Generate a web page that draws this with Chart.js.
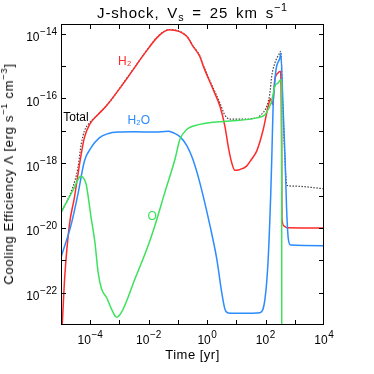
<!DOCTYPE html>
<html><head><meta charset="utf-8">
<script src="https://cdn.jsdelivr.net/npm/chart.js@4.4.1/dist/chart.umd.min.js"></script>
<style>
html,body{margin:0;padding:0;background:#fff;}
#wrap{position:relative;width:374px;height:374px;overflow:hidden;font-family:'Liberation Sans',Arial,sans-serif;color:#000;}
canvas{position:absolute;left:0;top:0;}
.t{position:absolute;white-space:nowrap;line-height:16px;}
.t sup,.t sub{font-size:72%;line-height:0;}
#title{left:61px;width:263px;top:4px;text-align:center;font-size:15px;line-height:18px;letter-spacing:0.8px;word-spacing:3px;}
#title sup{vertical-align:7px;}
#title sub{vertical-align:-3px;}
#xtitle{left:61px;width:263px;top:347px;text-align:center;font-size:13px;letter-spacing:0.5px;}
#ytitle{left:8.5px;top:174px;font-size:13px;letter-spacing:0.7px;transform:translate(-50%,-50%) rotate(-90deg);}
#ytitle sup{vertical-align:6px;}
</style></head>
<body>
<div id="wrap">
<canvas id="c" width="374" height="374"></canvas>
<div class="t" id="title">J-shock, V<sub>s</sub> = 25 km s<sup>−1</sup></div>
<div class="t" id="xtitle">Time [yr]</div>
<div class="t" id="ytitle">Cooling Efficiency Λ [erg s<sup>−1</sup> cm<sup>−3</sup>]</div>
</div>
<script>
// ---- data (time in yr, cooling efficiency in erg s^-1 cm^-3) ----
const h2Time  = [1.0e-5,1.10e-5,1.35e-5,1.95e-5,2.88e-5,3.80e-5,4.90e-5,6.31e-5,9.55e-5,1.82e-4,3.47e-4,1.17e-3,2.95e-3,7.41e-3,2.14e-2,5.01e-2,0.200,0.331,0.562,0.741,1.62,2.75,4.07,5.25,6.92,8.91,12.6,22.4,33.1,50.1,83.2,123,148,174,209,269,324,355,363,427,525,1e4];
const h2Value = [2.5e-24,1.0e-23,3.31e-22,1.29e-20,8.71e-20,4.47e-19,1.86e-18,6.17e-18,1.58e-17,3.16e-17,5.75e-17,2.40e-16,7.76e-16,2.51e-15,8.32e-15,1.32e-14,8.32e-15,4.07e-15,2.0e-15,1.0e-15,1.86e-16,5.75e-17,1.38e-17,3.39e-18,1.05e-18,6.03e-19,6.31e-19,8.13e-19,1.32e-18,2.40e-18,1.10e-17,5.75e-17,9.77e-17,6.46e-17,3.80e-16,6.17e-16,6.92e-16,3.16e-18,2.0e-20,1.15e-20,1.02e-20,1.0e-20];

const h2oTime  = [1.0e-5,2.24e-5,3.80e-5,6.31e-5,1.07e-4,2.09e-4,3.98e-4,9.12e-4,3.16e-3,1.62e-2,4.68e-2,6.92e-2,0.117,0.200,0.316,0.562,1.26,2.14,3.16,4.07,5.25,15.8,64.6,95.5,123,151,166,182,200,234,309,331,398,468,525,603,724,1e4];
const h2oValue = [1.23e-21,1.29e-20,1.10e-19,1.15e-18,3.02e-18,6.17e-18,8.13e-18,9.12e-18,9.33e-18,9.12e-18,9.77e-18,8.71e-18,6.61e-18,3.55e-18,1.41e-18,2.51e-19,1.15e-20,1.10e-21,1.02e-22,3.09e-23,2.34e-23,2.29e-23,2.40e-23,6.31e-23,1.10e-21,1.23e-19,2.51e-18,6.31e-17,2.40e-16,8.91e-16,1.78e-15,2.51e-15,5.01e-17,1.26e-18,3.98e-20,4.47e-21,2.95e-21,2.82e-21];

const oTime  = [1.0e-5,2.51e-5,3.98e-5,4.68e-5,7.24e-5,1.07e-4,1.45e-4,1.86e-4,2.45e-4,3.63e-4,5.37e-4,7.94e-4,1.17e-3,3.39e-3,9.55e-3,1.62e-2,3.55e-2,7.94e-2,0.117,0.200,0.562,1.0,6.03,50.1,95.5,123,162,209,269,331,355,359,1e4];
const oValue = [2.95e-20,1.41e-19,3.31e-19,3.98e-19,2.24e-19,2.09e-20,3.55e-21,4.27e-22,1.29e-22,7.08e-23,3.09e-23,1.74e-23,2.45e-23,2.63e-22,2.82e-21,1.15e-20,1.23e-19,1.32e-18,5.37e-18,1.10e-17,1.58e-17,1.74e-17,2.0e-17,2.51e-17,3.16e-17,4.57e-17,8.32e-17,2.40e-16,3.02e-16,3.80e-16,3.16e-16,1e-26,1e-26];

const totalTime  = [1.0e-5,2.51e-5,3.80e-5,4.90e-5,6.31e-5,9.55e-5,1.41e-4,3.09e-4,6.31e-4,1.17e-3,2.95e-3,7.41e-3,2.14e-2,5.01e-2,0.200,0.331,0.562,0.741,1.62,2.75,3.98,6.03,15.8,46.8,64.6,110,141,162,209,295,331,398,479,537,1000,1e4];
const totalValue = [2.95e-20,1.78e-19,7.24e-19,3.80e-18,9.77e-18,1.78e-17,2.51e-17,5.13e-17,1.12e-16,2.51e-16,7.94e-16,2.57e-15,8.51e-15,1.35e-14,8.51e-15,4.17e-15,2.09e-15,1.05e-15,2.09e-16,7.24e-17,3.16e-17,2.29e-17,2.29e-17,2.51e-17,2.95e-17,5.75e-17,1.48e-16,4.79e-16,1.26e-15,2.40e-15,2.88e-15,3.16e-17,6.31e-19,2.09e-19,1.95e-19,1.62e-19];

const seriesNames = ['H₂','H₂O','O','Total'];
const xTickExps = [-4,-2,0,2,4];
const yTickExps = [-22,-20,-18,-16,-14];
const xDecadeExps = [-4,-3,-2,-1,0,1,2,3];
const yDecadeExps = [-22,-21,-20,-19,-18,-17,-16,-15,-14];

// in-plot label anchors (time, value)
const labelAnchors = [
  {text:'H₂',    t:1.51e-3, v:1.38e-15, color:'#ff2a2a'},
  {text:'Total', t:3.24e-5, v:2.63e-17, color:'#000000'},
  {text:'H₂O',   t:4.57e-3, v:2.09e-17, color:'#2a8cff'},
  {text:'O',     t:1.32e-2, v:2.24e-20, color:'#3de25c'}
];

const FONT = "'Liberation Sans', Arial, sans-serif";
function expText(e){ return String(e).replace('-', '−'); }
function pts(t, v){ return t.map((x,i)=>({x:x, y:v[i]})); }

const framePlugin = {
  id:'frame',
  afterDraw(chart){
    const ctx = chart.ctx, a = chart.chartArea, xs = chart.scales.x, ys = chart.scales.y;
    ctx.save();
    ctx.strokeStyle = '#000'; ctx.lineWidth = 1;
    ctx.strokeRect(Math.round(a.left)+0.5, Math.round(a.top)+0.5, Math.round(a.right-a.left)-1, Math.round(a.bottom-a.top)-1);
    const L = 5;
    ctx.beginPath();
    xDecadeExps.forEach(e=>{
      const px = Math.round(xs.getPixelForValue(Math.pow(10,e)))+0.5;
      ctx.moveTo(px, a.bottom); ctx.lineTo(px, a.bottom-L);
      ctx.moveTo(px, a.top); ctx.lineTo(px, a.top+L);
    });
    yDecadeExps.forEach(e=>{
      const py = Math.round(ys.getPixelForValue(Math.pow(10,e)))+0.5;
      ctx.moveTo(a.left, py); ctx.lineTo(a.left+L, py);
      ctx.moveTo(a.right, py); ctx.lineTo(a.right-L, py);
    });
    ctx.stroke();
    // tick labels: 10 with superscript exponent
    ctx.fillStyle = '#000';
    ctx.textBaseline = 'alphabetic';
    const baseFont = '12px ' + FONT, supFont = '10px ' + FONT;
    function measure(e){
      ctx.font = baseFont; const w1 = ctx.measureText('10').width;
      ctx.font = supFont; const w2 = ctx.measureText(expText(e)).width;
      return [w1, w2];
    }
    function draw(e, xLeft, base){
      const [w1] = measure(e);
      ctx.textAlign = 'left';
      ctx.font = baseFont; ctx.fillText('10', xLeft, base);
      ctx.font = supFont; ctx.fillText(expText(e), xLeft + w1 + 0.5, base - 6.5);
    }
    xTickExps.forEach(e=>{
      const px = xs.getPixelForValue(Math.pow(10,e));
      const [w1,w2] = measure(e);
      draw(e, px - (w1 + w2 + 0.5)/2, a.bottom + 19);
    });
    yTickExps.forEach(e=>{
      const py = ys.getPixelForValue(Math.pow(10,e));
      const [w1,w2] = measure(e);
      draw(e, a.left - 4 - (w1 + w2 + 0.5), py + 7.5);
    });
    ctx.restore();
  }
};
const labelPlugin = {
  id:'seriesLabels',
  afterDatasetsDraw(chart){
    const ctx = chart.ctx, xs = chart.scales.x, ys = chart.scales.y;
    ctx.save();
    ctx.font = '12px ' + FONT;
    ctx.textAlign = 'center'; ctx.textBaseline = 'middle';
    labelAnchors.forEach(l=>{
      ctx.fillStyle = l.color;
      ctx.fillText(l.text, xs.getPixelForValue(l.t), ys.getPixelForValue(l.v));
    });
    ctx.restore();
  }
};

const common = {pointRadius:0, fill:false, cubicInterpolationMode:'monotone', clip:0};
new Chart(document.getElementById('c'), {
  type:'line',
  data:{datasets:[
    Object.assign({label:seriesNames[3], data:pts(totalTime,totalValue), borderColor:'#444', borderWidth:1.2, borderDash:[1.5,1.5], order:4}, common),
    Object.assign({label:seriesNames[0], data:pts(h2Time,h2Value), borderColor:'#ff2a2a', borderWidth:1.5, order:3}, common),
    Object.assign({label:seriesNames[1], data:pts(h2oTime,h2oValue), borderColor:'#2a8cff', borderWidth:1.5, order:2}, common),
    Object.assign({label:seriesNames[2], data:pts(oTime,oValue), borderColor:'#3de25c', borderWidth:1.5, order:1}, common)
  ]},
  options:{
    responsive:false, animation:false, devicePixelRatio:1,
    layout:{padding:{top:24,right:50,left:0,bottom:0}},
    plugins:{legend:{display:false}, tooltip:{enabled:false}, title:{display:false}},
    scales:{
      x:{type:'logarithmic', min:1e-5, max:1e4,
         grid:{display:false, drawTicks:false}, border:{display:false},
         afterBuildTicks:(s)=>{ s.ticks = xTickExps.map(e=>({value:Math.pow(10,e)})); },
         afterFit:(s)=>{ s.height = 49; },
         ticks:{display:false}},
      y:{type:'logarithmic', min:1e-23, max:2e-14,
         grid:{display:false, drawTicks:false}, border:{display:false},
         afterBuildTicks:(s)=>{ s.ticks = yTickExps.map(e=>({value:Math.pow(10,e)})); },
         afterFit:(s)=>{ s.width = 61; },
         ticks:{display:false}}
    }
  },
  plugins:[framePlugin, labelPlugin]
});
</script>
</body></html>
